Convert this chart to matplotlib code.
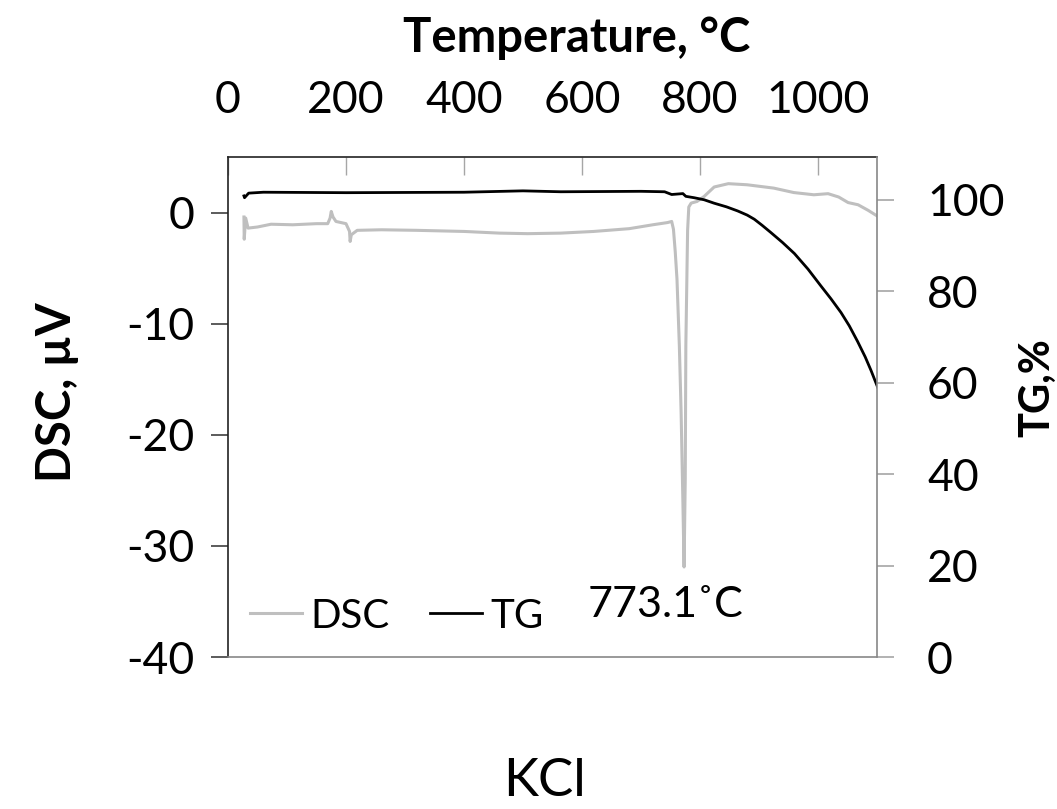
import matplotlib
matplotlib.use('Agg')
import matplotlib.pyplot as plt

plt.rcParams['font.family'] = ['Lato', 'DejaVu Sans']
plt.rcParams['axes.unicode_minus'] = False

# DSC curve (uV) vs temperature (C)
dsc_temp = [27, 27.5, 28.5, 30, 34, 50, 73, 110, 150, 169, 173, 175, 178, 183, 200,
            206, 207, 209, 219, 260, 320, 400, 460, 508, 564, 620, 680, 720, 745, 752,
            755, 758, 761, 765, 768, 771, 773, 775, 776, 778, 779, 781, 785, 795, 807,
            824, 848, 880, 925, 959, 993, 1017, 1035, 1051, 1068, 1085, 1100]
dsc_val = [-0.4, -2.4, -1.6, -0.5, -1.4, -1.3, -1.05, -1.1, -1.0, -1.0, -0.5, 0.1, -0.4, -0.8, -1.0,
           -1.7, -2.6, -2.0, -1.6, -1.55, -1.6, -1.7, -1.85, -1.9, -1.85, -1.7, -1.45, -1.1, -0.9, -0.8,
           -1.5, -3.5, -6, -12, -18, -26, -31.9, -24, -12, -5, -1.6, 0.5, 0.85, 1.0, 1.45,
           2.3, 2.6, 2.5, 2.2, 1.8, 1.6, 1.7, 1.4, 0.9, 0.7, 0.2, -0.3]

# TG curve (%) vs temperature (C)
tg_temp = [27, 28, 35, 60, 200, 400, 500, 564, 700, 740, 752, 771, 776, 790, 807, 824,
           845, 864, 880, 892, 905, 920, 940, 960, 983, 1005, 1022, 1039, 1053, 1067,
           1080, 1090, 1101]
tg_val = [100.8, 100.4, 101.4, 101.6, 101.5, 101.6, 101.9, 101.7, 101.8, 101.7, 101.1, 101.3, 100.7, 100.4, 99.95, 99.2,
          98.4, 97.5, 96.6, 95.7, 94.4, 92.8, 90.6, 88.2, 84.8, 81.1, 78.3, 75.3, 72.4, 69.0,
          65.6, 62.6, 59.0]

temp_ticks = [0, 200, 400, 600, 800, 1000]
dsc_ticks = [0, -10, -20, -30, -40]
tg_ticks = [0, 20, 40, 60, 80, 100]
peak_label = '773.1˚C'

fig = plt.figure(figsize=(10.57, 8.09), dpi=100)
ax = fig.add_axes([228 / 1057, 1 - 657 / 809, 649 / 1057, 500 / 809])
ax2 = ax.twinx()

ax.plot(dsc_temp, dsc_val, color='#bfbfbf', lw=2.2, label='DSC')
ax2.plot(tg_temp, tg_val, color='black', lw=2.0, label='TG')

ax.set_xlim(0, 1100)
ax.set_ylim(-40, 5)
ax2.set_ylim(0, 109.3)

ax.xaxis.tick_top()
ax.set_xticks(temp_ticks)
ax.set_yticks(dsc_ticks)
ax2.set_yticks(tg_ticks)

ax.tick_params(axis='x', direction='in', length=13, width=1, color='#a6a6a6',
               labelsize=32, pad=26)
ax.tick_params(axis='y', direction='out', length=12, width=1.2, color='#404040',
               labelsize=32, pad=12)
ax2.tick_params(axis='y', direction='out', length=12, width=1.2, color='#a6a6a6',
                labelsize=32, pad=24)

ax.spines['right'].set_visible(False)
ax.spines['bottom'].set_color('#888888')
ax.spines['left'].set_color('#222222')
ax.spines['top'].set_color('#222222')
for s in ['left', 'top', 'bottom']:
    ax2.spines[s].set_visible(False)
ax2.spines['right'].set_color('#888888')
for s in ax.spines.values():
    s.set_linewidth(1.2)
ax2.spines['right'].set_linewidth(1.2)

ax.text(742, -35.3, peak_label, fontsize=31, ha='center', va='center')

h1, l1 = ax.get_legend_handles_labels()
h2, l2 = ax2.get_legend_handles_labels()
ax.legend(h1 + h2, l1 + l2, loc='center left', bbox_to_anchor=(0.034, 0.082),
          ncol=2, frameon=False, fontsize=29, handlelength=1.3, handletextpad=0.2,
          columnspacing=1.0, borderpad=0, borderaxespad=0)

fig.text(577 / 1057, 1 - 38 / 809, 'Temperature, °C', fontsize=34, fontweight='bold',
         ha='center', va='center')
fig.text(57 / 1057, 1 - 392 / 809, 'DSC, µV', fontsize=34, fontweight='bold',
         rotation=90, ha='center', va='center')
fig.text(1037 / 1057, 1 - 388 / 809, 'TG,%', fontsize=30, fontweight='bold',
         rotation=90, ha='center', va='center')
fig.text(545 / 1057, 1 - 781 / 809, 'KCl', fontsize=38, ha='center', va='center')

fig.savefig('out.png', dpi=100)
